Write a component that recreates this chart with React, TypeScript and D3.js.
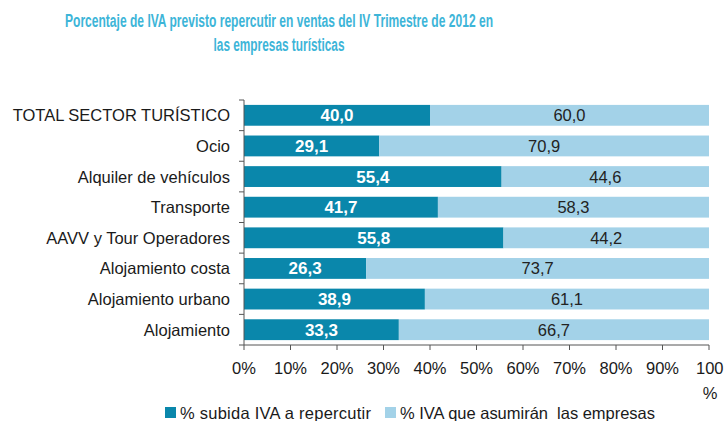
import React, { useEffect, useRef } from "react";
import * as d3 from "d3";

const categories = [
  "TOTAL SECTOR TURÍSTICO",
  "Ocio",
  "Alquiler de vehículos",
  "Transporte",
  "AAVV y Tour Operadores",
  "Alojamiento costa",
  "Alojamiento urbano",
  "Alojamiento",
];
const repercutir = [40.0, 29.1, 55.4, 41.7, 55.8, 26.3, 38.9, 33.3];
const asumiran = [60.0, 70.9, 44.6, 58.3, 44.2, 73.7, 61.1, 66.7];
const xTicks = [0, 10, 20, 30, 40, 50, 60, 70, 80, 90, 100];
const seriesNames = ["% subida IVA a repercutir", "% IVA que asumirán  las empresas"];
const titleLines = [
  "Porcentaje de IVA previsto repercutir en ventas del IV Trimestre de 2012 en",
  "las empresas turísticas",
];

const DARK = "#0A87AB";
const LIGHT = "#A3D2E8";
const FONT = "'Liberation Sans', Arial, sans-serif";

export default function App() {
  const ref = useRef<SVGSVGElement>(null);

  useEffect(() => {
    const svg = d3.select(ref.current);
    svg.selectAll("*").remove();

    const left = 244, right = 709, top = 100, bottom = 345;

    const x = d3.scaleLinear().domain([0, 100]).range([left, right]);
    const y = d3.scaleBand().domain(categories).range([top, bottom]).paddingInner(0.32).paddingOuter(0.16);

    // title (condensed bold, squeezed to the reference width)
    const titleLen = [428, 131];
    svg.selectAll(".title").data(titleLines).join("text")
      .attr("x", 279)
      .attr("y", (d, i) => 27 + i * 24)
      .attr("text-anchor", "middle")
      .attr("textLength", (d, i) => titleLen[i])
      .attr("lengthAdjust", "spacingAndGlyphs")
      .style("font-family", FONT)
      .style("font-weight", "bold")
      .style("font-size", "17.5px")
      .style("fill", "#3DB5D8")
      .text((d) => d);

    // bars
    const rows = categories.map((c, i) => ({ c, a: repercutir[i], b: asumiran[i] }));
    const g = svg.append("g");
    g.selectAll(".bar_a").data(rows).join("rect")
      .attr("x", x(0))
      .attr("y", (d) => y(d.c)!)
      .attr("width", (d) => x(d.a) - x(0))
      .attr("height", y.bandwidth())
      .style("fill", DARK);
    g.selectAll(".bar_b").data(rows).join("rect")
      .attr("x", (d) => x(d.a))
      .attr("y", (d) => y(d.c)!)
      .attr("width", (d) => x(d.a + d.b) - x(d.a))
      .attr("height", y.bandwidth())
      .style("fill", LIGHT);

    // value labels
    const fmt = (v: number) => v.toFixed(1).replace(".", ",");
    g.selectAll(".lab_a").data(rows).join("text")
      .attr("x", (d) => x(d.a / 2))
      .attr("y", (d) => y(d.c)! + y.bandwidth() / 2 + 6)
      .attr("text-anchor", "middle")
      .style("font-family", FONT)
      .style("font-weight", "bold")
      .style("font-size", "17px")
      .style("fill", "#fff")
      .text((d) => fmt(d.a));
    g.selectAll(".lab_b").data(rows).join("text")
      .attr("x", (d) => x(d.a + d.b / 2))
      .attr("y", (d) => y(d.c)! + y.bandwidth() / 2 + 6)
      .attr("text-anchor", "middle")
      .style("font-family", FONT)
      .style("font-size", "16.5px")
      .style("fill", "#222")
      .text((d) => fmt(d.b));

    // y axis
    svg.append("line").attr("x1", left).attr("x2", left).attr("y1", top).attr("y2", bottom)
      .style("stroke", "#555");
    const step = (bottom - top) / categories.length;
    svg.selectAll(".ytick").data(d3.range(categories.length + 1)).join("line")
      .attr("x1", left - 5).attr("x2", left)
      .attr("y1", (i) => top + i * step).attr("y2", (i) => top + i * step)
      .style("stroke", "#555");
    svg.selectAll(".ylab").data(categories).join("text")
      .attr("x", 230)
      .attr("y", (d) => y(d)! + y.bandwidth() / 2 + 6)
      .attr("text-anchor", "end")
      .style("font-family", FONT)
      .style("font-size", "16.5px")
      .style("fill", "#1a1a1a")
      .text((d) => d);

    // x axis
    svg.append("line").attr("x1", left).attr("x2", right).attr("y1", bottom).attr("y2", bottom)
      .style("stroke", "#555");
    svg.selectAll(".xtick").data(xTicks).join("line")
      .attr("x1", (d) => x(d)).attr("x2", (d) => x(d))
      .attr("y1", bottom).attr("y2", bottom + 5)
      .style("stroke", "#555");
    svg.selectAll(".xlab").data(xTicks).join("text")
      .attr("x", (d) => (d === 100 ? x(d) - 13 : x(d)))
      .attr("y", 374)
      .attr("text-anchor", (d) => (d === 100 ? "start" : "middle"))
      .style("font-family", FONT)
      .style("font-size", "16.5px")
      .style("fill", "#1a1a1a")
      .text((d) => (d === 100 ? "100" : d + "%"));
    svg.append("text")
      .attr("x", 710).attr("y", 399)
      .attr("text-anchor", "middle")
      .style("font-family", FONT)
      .style("font-size", "16.5px")
      .style("fill", "#1a1a1a")
      .text("%");

    // legend
    const legX = [165, 385];
    const legLen = [191, 255];
    const leg = svg.selectAll(".leg").data(seriesNames).join("g")
      .attr("transform", (d, i) => `translate(${legX[i]},407)`);
    leg.append("rect").attr("width", 11).attr("height", 11)
      .style("fill", (d, i) => (i === 0 ? DARK : LIGHT));
    leg.append("text").attr("x", 15).attr("y", 11.5)
      .attr("textLength", (d, i) => legLen[i])
      .attr("lengthAdjust", "spacing")
      .style("font-family", FONT)
      .style("font-size", "16.5px")
      .style("fill", "#1a1a1a")
      .style("white-space", "pre")
      .text((d) => d);
  }, []);

  return (
    <svg ref={ref} width={724} height={421} style={{ position: "absolute", left: 0, top: 0, background: "#fff" }} />
  );
}
